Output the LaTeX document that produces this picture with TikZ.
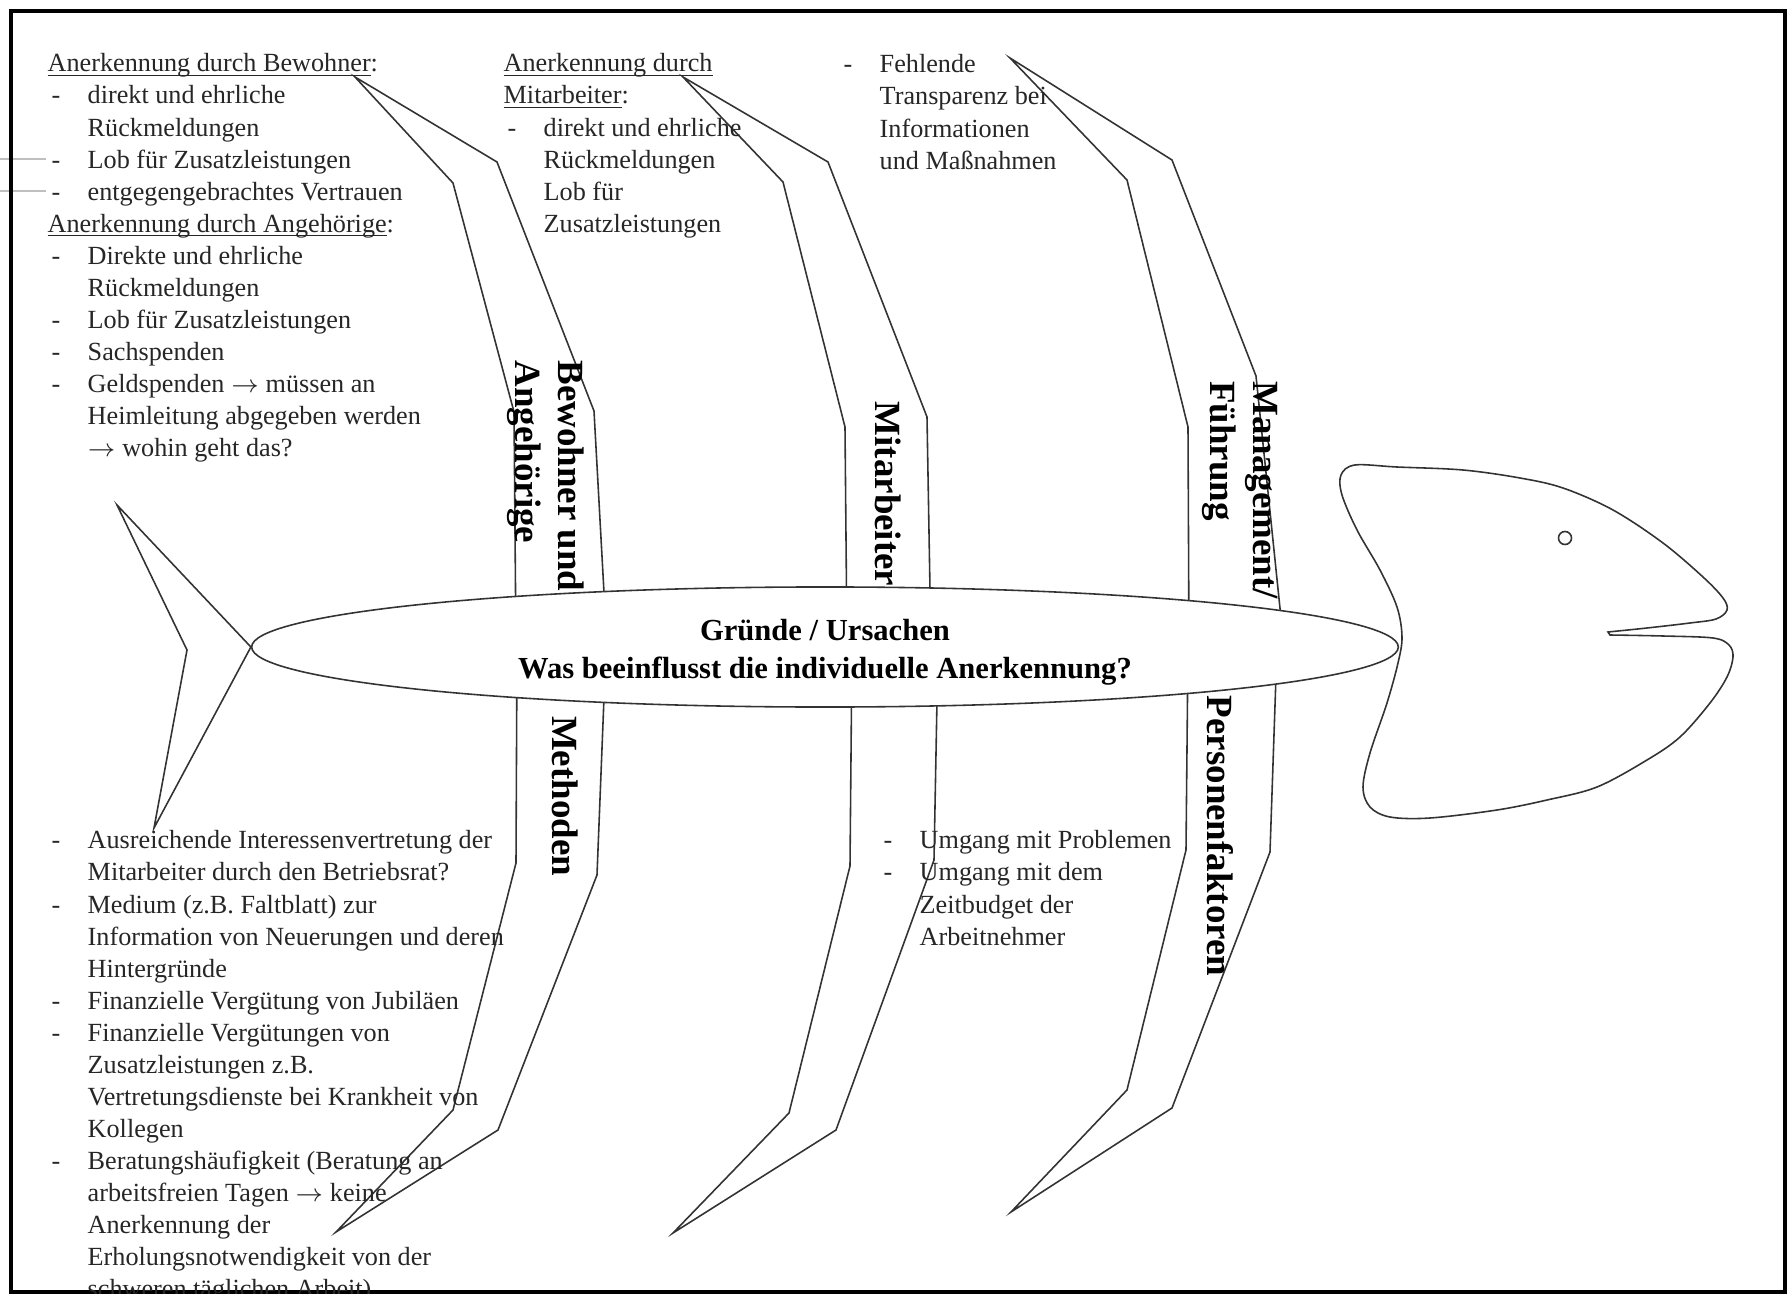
\documentclass[tikz,border=0pt]{standalone}
\usepackage{fontspec}
\setmainfont{Liberation Serif}
\usetikzlibrary{shapes.geometric}

\tikzset{
  fishline/.style={draw=black!80, line width=0.45pt},
  bone/.style={fishline, line join=miter},
  causetext/.style={font=\fontsize{7.45}{9.12}\selectfont, text=black!85, align=left, anchor=north west, inner sep=0pt},
  bonelabel/.style={font=\fontsize{10.5}{12.2}\selectfont\bfseries, rotate=-90, align=left, inner sep=0pt},
  spinebody/.style={ellipse, fishline, fill=white, minimum width=11.46cm, minimum height=1.2cm, inner sep=0pt},
  spinelabel/.style={font=\fontsize{8.7}{10.8}\selectfont\bfseries, align=center, inner sep=0pt},
}

\newcommand{\causeitem}[1]{\makebox[0.4cm][l]{\hspace{0.04cm}-}#1}
\newcommand{\causecont}[1]{\hspace*{0.4cm}#1}
\newcommand{\causehead}[1]{\setbox0\hbox{#1}\rlap{\rule[-1.1pt]{\wd0}{0.35pt}}\box0}

\begin{document}
\begin{tikzpicture}[x=0.01cm, y=-0.01cm]
    \useasboundingbox (0,0) rectangle (1790,1294);
    % Draw frame
    \draw[gray!50, line width=0.3pt] (0,159) -- (46,159);
    \draw[gray!50, line width=0.3pt] (0,191) -- (46,191);
    \draw[line width=0.04cm] (11,11) rectangle (1785,1292);
    % Draw upper bones
    \draw[bone] (355,77) -- (453,183) -- (514,412) -- (516,647)
          -- (607,647) -- (594,411) -- (497,162) -- cycle;
    \draw[bone] (683,77) -- (783,182) -- (845,427) -- (847,647)
          -- (931,647) -- (927,417) -- (828,162) -- cycle;
    \draw[bone] (1010,58) -- (1127,180) -- (1188,427) -- (1189,647)
          -- (1284,647) -- (1256,376) -- (1172,160) -- cycle;
    % Draw lower bones
    \draw[bone] (336,1232) -- (453,1110) -- (516,863) -- (517,647)
          -- (606,647) -- (597,875) -- (498,1130) -- cycle;
    \draw[bone] (673,1233) -- (789,1113) -- (850,866) -- (852,647)
          -- (938,647) -- (934,860) -- (836,1130) -- cycle;
    \draw[bone] (1011,1212) -- (1127,1090) -- (1186,850) -- (1188,647)
          -- (1277,647) -- (1270,852) -- (1172,1108) -- cycle;
    % Draw spine
    \node (spine) [spinebody] at (825,647) {};
    \node (spinetext) [spinelabel] at (825,652)
          {Gründe / Ursachen\\Was beeinflusst die individuelle Anerkennung?};
    % Draw tail
    \draw[bone] (spine.west) -- (117,505) -- (187,650) -- (154,828) -- cycle;
    % Draw head
    \draw[fishline] plot[smooth, tension=0.55] coordinates {
          (1608,632) (1647,628) (1690,623) (1716,619) (1727,610) (1723,598)
          (1703,577) (1663,543) (1613,510) (1563,488) (1520,478) (1463,470)
          (1397,467) (1355,465) (1341,475) (1342,495) (1357,530) (1380,570)
          (1397,607) (1402,637) (1398,663) (1387,703) (1370,753) (1363,787)
          (1370,807) (1390,817) (1430,818) (1497,810) (1547,800) (1597,787)
          (1647,760) (1680,737) (1710,703) (1727,677) (1733,657) (1729,645)
          (1713,638) (1663,636) (1610,635)} -- cycle;
    \draw[fishline] (1565,538) circle (0.065cm);
    % Bone labels
    \node (bewohner) [bonelabel] at (546,476) {Bewohner und\\Angehörige};
    \node (mitarbeiter) [bonelabel] at (888,494) {Mitarbeiter};
    \node (management) [bonelabel] at (1240,490) {Management/\\Führung};
    \node (methoden) [bonelabel] at (565,796) {Methoden};
    \node (personen) [bonelabel] at (1220,836) {Personenfaktoren};
    % Causes, upper side
    \node (bewohnertext) [causetext] at (47,53) {%
          \causehead{Anerkennung durch Bewohner}:\\
          \causeitem{direkt und ehrliche}\\
          \causecont{Rückmeldungen}\\
          \causeitem{Lob für Zusatzleistungen}\\
          \causeitem{entgegengebrachtes Vertrauen}\\
          \causehead{Anerkennung durch Angehörige}:\\
          \causeitem{Direkte und ehrliche}\\
          \causecont{Rückmeldungen}\\
          \causeitem{Lob für Zusatzleistungen}\\
          \causeitem{Sachspenden}\\
          \causeitem{Geldspenden $\rightarrow$ müssen an}\\
          \causecont{Heimleitung abgegeben werden}\\
          \causecont{$\rightarrow$ wohin geht das?}};
    \node (mitarbeitertext) [causetext] at (503,53) {%
          \causehead{Anerkennung durch}\\
          \causehead{Mitarbeiter}:\\
          \causeitem{direkt und ehrliche}\\
          \causecont{Rückmeldungen}\\
          \causecont{Lob für}\\
          \causecont{Zusatzleistungen}};
    \node (managementtext) [causetext] at (839,54) {%
          \causeitem{Fehlende}\\
          \causecont{Transparenz bei}\\
          \causecont{Informationen}\\
          \causecont{und Maßnahmen}};
    % Causes, lower side
    \node (methodentext) [causetext] at (47,830) {%
          \causeitem{Ausreichende Interessenvertretung der}\\
          \causecont{Mitarbeiter durch den Betriebsrat?}\\
          \causeitem{Medium (z.B. Faltblatt) zur}\\
          \causecont{Information von Neuerungen und deren}\\
          \causecont{Hintergründe}\\
          \causeitem{Finanzielle Vergütung von Jubiläen}\\
          \causeitem{Finanzielle Vergütungen von}\\
          \causecont{Zusatzleistungen z.B.}\\
          \causecont{Vertretungsdienste bei Krankheit von}\\
          \causecont{Kollegen}\\
          \causeitem{Beratungshäufigkeit (Beratung an}\\
          \causecont{arbeitsfreien Tagen $\rightarrow$ keine}\\
          \causecont{Anerkennung der}\\
          \causecont{Erholungsnotwendigkeit von der}\\
          \causecont{schweren täglichen Arbeit)}};
    \node (personentext) [causetext] at (879,830) {%
          \causeitem{Umgang mit Problemen}\\
          \causeitem{Umgang mit dem}\\
          \causecont{Zeitbudget der}\\
          \causecont{Arbeitnehmer}};
\end{tikzpicture}
\end{document}
